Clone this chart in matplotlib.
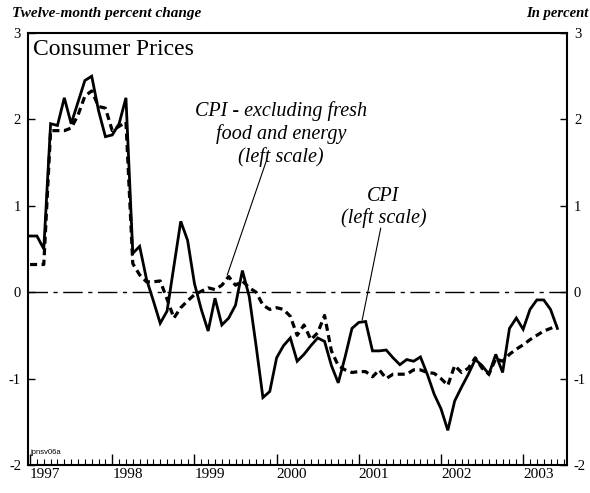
import matplotlib
matplotlib.use("Agg")
import matplotlib.pyplot as plt
import numpy as np

# Monthly data, Jan 1997 .. Jun 2003 (twelve-month percent change)
cpi = [0.65, 0.65, 0.50, 1.95, 1.93, 2.25, 1.95, 2.20, 2.45, 2.50, 2.10, 1.80,   # 1997
       1.82, 1.95, 2.25, 0.45, 0.53, 0.15, -0.10, -0.36, -0.22, 0.30, 0.82, 0.60,  # 1998
       0.10, -0.20, -0.45, -0.07, -0.38, -0.30, -0.15, 0.25, -0.05, -0.62, -1.22, -1.15,  # 1999
       -0.76, -0.62, -0.53, -0.80, -0.72, -0.62, -0.53, -0.57, -0.85, -1.05, -0.75, -0.42,  # 2000
       -0.35, -0.34, -0.68, -0.68, -0.67, -0.76, -0.84, -0.78, -0.80, -0.75, -0.95, -1.18,  # 2001
       -1.35, -1.60, -1.26, -1.10, -0.95, -0.78, -0.85, -0.95, -0.72, -0.93, -0.42, -0.30,  # 2002
       -0.43, -0.20, -0.09, -0.09, -0.20, -0.42]  # 2003
core = [0.32, 0.32, 0.32, 1.87, 1.87, 1.87, 1.90, 2.05, 2.27, 2.33, 2.15, 2.13,
        1.87, 1.92, 1.97, 0.33, 0.20, 0.12, 0.12, 0.13, -0.08, -0.30, -0.18, -0.10,
        -0.03, 0.01, 0.05, 0.03, 0.08, 0.18, 0.08, 0.13, 0.05, 0.00, -0.15, -0.20,
        -0.18, -0.20, -0.28, -0.50, -0.38, -0.55, -0.47, -0.27, -0.68, -0.85, -0.90, -0.93,
        -0.92, -0.92, -0.98, -0.90, -1.00, -0.95, -0.95, -0.95, -0.90, -0.90, -0.93, -0.94,
        -1.00, -1.08, -0.85, -0.93, -0.88, -0.76, -0.88, -0.95, -0.77, -0.80, -0.72, -0.66,
        -0.61, -0.55, -0.50, -0.45, -0.42, -0.38]
years = ["1997", "1998", "1999", "2000", "2001", "2002", "2003"]
yticks = [-2, -1, 0, 1, 2, 3]

months = np.arange(len(cpi))

plt.rcParams['font.family'] = ['Liberation Serif', 'DejaVu Serif']
fig = plt.figure(figsize=(5.9, 4.93), dpi=100)
ax = fig.add_axes([0.0475, 0.057, 0.9135, 0.876])

ax.axhline(0, color='black', lw=1.0, linestyle=(0, (14, 4, 3, 4)))
ax.plot(months, cpi, color='black', lw=2.0, solid_joinstyle='miter')
ax.plot(months, core, color='black', lw=2.3, linestyle=(0, (2.2, 1.4)))

ax.set_xlim(-0.3, 78.4)
ax.set_ylim(-2, 3)

ax.set_yticks(yticks)
ax.set_yticklabels([str(v) for v in yticks])
ax.tick_params(axis='y', direction='in', length=5, width=1, left=True, right=True,
               labelleft=True, labelright=True, labelsize=10.5, pad=5)

ax.set_xticks(np.arange(0, 12 * len(years), 12))
ax.set_xticklabels(years)
for lab in ax.get_xticklabels():
    lab.set_horizontalalignment('left')
ax.set_xticks(np.arange(0, 79, 1), minor=True)
ax.tick_params(axis='x', which='major', direction='in', length=8, width=1, labelsize=11, pad=2)
ax.tick_params(axis='x', which='minor', direction='in', length=4, width=0.8)

for s in ax.spines.values():
    s.set_linewidth(1.5)

ax.text(0.009, 0.963, "Consumer Prices", transform=ax.transAxes, fontsize=17,
        ha='left', va='center')
ax.text(0.004, 0.028, "jpnsv06a", transform=ax.transAxes, fontsize=5.5,
        family=['Liberation Sans', 'DejaVu Sans'], ha='left', va='center')

ax.text(36.6, 1.83, "CPI - excluding fresh\nfood and energy\n(left scale)",
        style='italic', fontsize=14.5, ha='center', va='center', multialignment='center',
        linespacing=1.2)
ax.plot([34.5, 28.8], [1.52, 0.2], color='black', lw=0.8)

ax.text(51.6, 0.98, "CPI\n(left scale)", style='italic', fontsize=14.5,
        ha='center', va='center', multialignment='center', linespacing=1.2)
ax.plot([51.2, 48.5], [0.74, -0.32], color='black', lw=0.8)

fig.text(0.02, 0.972, "Twelve-month percent change", style='italic', weight='bold',
         fontsize=11, ha='left', va='center')
fig.text(0.997, 0.972, "In percent", style='italic', weight='bold',
         fontsize=10.5, ha='right', va='center')

fig.savefig("out.png", dpi=100)
